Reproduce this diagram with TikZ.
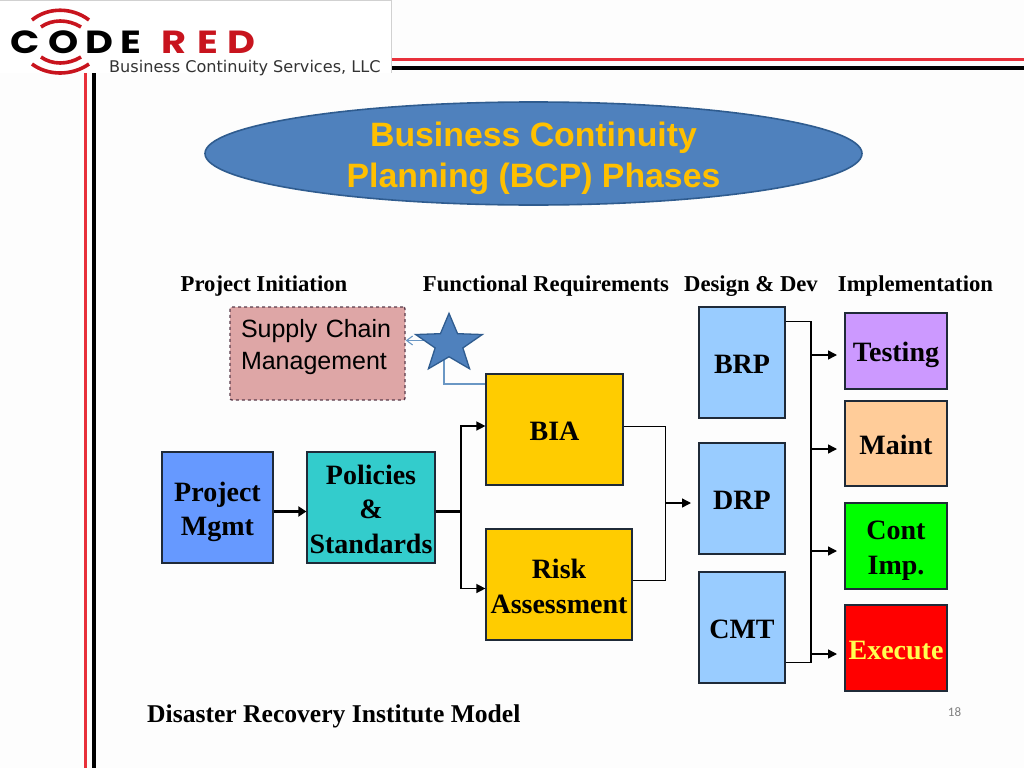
\documentclass[tikz,border=0pt]{standalone}
\usepackage{fontspec}
\setmainfont{Liberation Serif}
\newfontfamily\arialf{Liberation Sans}
\newfontfamily\logof{Poppins}
\newfontfamily\logosub{DejaVu Sans}
\newfontfamily\pagef{Carlito}
\usetikzlibrary{shapes.geometric,arrows.meta,calc}
\definecolor{pagebg}{HTML}{FDFDFD}
\definecolor{coderedc}{HTML}{C8141E}
\definecolor{barred}{HTML}{E8303A}
\definecolor{starblue}{HTML}{4F81BD}
\definecolor{starline}{HTML}{2F5C8F}
\definecolor{linkblue}{HTML}{6A97C4}
\definecolor{boxline}{HTML}{1F2A38}
\definecolor{titleyellow}{HTML}{FFC000}
\newcommand{\dnA}{\rule{0pt}{23pt}}
\newcommand{\dnB}{\rule{0pt}{28pt}}
\tikzset{
  x=1pt,y=-1pt,
  boxtext/.style={font=\bfseries\fontsize{28}{34.5}\selectfont,align=center,text=black},
  phasebox/.style={draw=boxline,line width=1.2pt,inner sep=0pt,boxtext},
  headlabel/.style={font=\bfseries\fontsize{22.7}{25}\selectfont,text=black,inner sep=0pt,text height=15pt,text depth=5pt},
  thin link/.style={draw=black,line width=1.4pt},
  thick link/.style={draw=black,line width=2.6pt},
  thin arrow/.style={thin link,-{Triangle[length=9pt,width=9pt]}},
  thick arrow/.style={thick link,-{Triangle[length=8pt,width=10pt]}},
  blue link/.style={draw=linkblue,line width=1.1pt},
  ring/.style={draw=coderedc,line width=3.6pt},
  logotext/.style={anchor=west,inner sep=0pt,xscale=1.2,transform shape,font=\logof\bfseries\fontsize{32}{32}\selectfont},
}
\begin{document}
\begin{tikzpicture}
\useasboundingbox (0,0) rectangle (1024,768);
\fill[pagebg] (0,0) rectangle (1024,768);

% frame lines
\draw[barred,line width=2.4pt] (392,59.5) -- (1024,59.5);
\draw[black,line width=3.6pt] (392,68) -- (1024,68);
\draw[barred,line width=2.4pt] (85.5,73) -- (85.5,768);
\draw[black,line width=3.6pt] (94,73) -- (94,768);

% logo panel
\fill[white] (0,0) rectangle (392,73);
\draw[black!18,line width=0.8pt] (0,0.5) -- (391.5,0.5) -- (391.5,73);
\draw[ring] (32,20) .. controls (48,7) and (72,7) .. (89,20);
\draw[ring] (41,27) .. controls (52,19) and (68,19) .. (81,27);
\draw[ring] (41,57) .. controls (52,65) and (68,65) .. (81,57);
\draw[ring] (32,64) .. controls (48,76) and (72,76) .. (89,64);
\node (code) [logotext] at (10,42) {C\hspace{7.3pt}O\hspace{6.2pt}D\hspace{5.7pt}E};
\node (red) [logotext,text=coderedc] at (161,42) {R\hspace{9pt}E\hspace{8pt}D};
\node (sub) [anchor=west,inner sep=0pt,text=black!80,font=\logosub\fontsize{16.1}{18}\selectfont] at (109,68) {Business Continuity Services, LLC};

% title ellipse
\node (title) [ellipse,draw=starline,line width=1.6pt,fill=starblue,minimum width=657pt,minimum height=103pt,inner sep=0pt] at (533.5,153.5) {};
\node (titletext) [inner sep=0pt,text=titleyellow,align=center,font=\arialf\bfseries\fontsize{33.8}{41}\selectfont] at (533.5,158) {Business Continuity\\Planning (BCP) Phases};

% headers
\node (h1) [headlabel] at (264,286) {Project Initiation};
\node (h2) [headlabel] at (546,286) {Functional Requirements};
\node (h3) [headlabel] at (751,286) {Design \& Dev};
\node (h4) [headlabel] at (915.5,286) {Implementation};

% boxes
\node (mgmt) [phasebox,fill={rgb,255:red,102;green,153;blue,255},minimum width=111pt,minimum height=111pt] at (217.5,507.5) {\dnB Project\\Mgmt};
\node (pol) [phasebox,fill={rgb,255:red,51;green,204;blue,204},minimum width=128pt,minimum height=111pt] at (371,507.5) {\dnA Policies\\\&\\Standards};
\node (bia) [phasebox,fill={rgb,255:red,255;green,204;blue,0},minimum width=137pt,minimum height=111pt] at (554.5,429.5) {\dnA BIA};
\node (risk) [phasebox,fill={rgb,255:red,255;green,204;blue,0},minimum width=146pt,minimum height=111pt] at (559,584.5) {\dnA Risk\\Assessment};
\node (brp) [phasebox,fill={rgb,255:red,153;green,204;blue,255},minimum width=86pt,minimum height=111pt] at (742,362.5) {\dnA BRP};
\node (drp) [phasebox,fill={rgb,255:red,153;green,204;blue,255},minimum width=86pt,minimum height=111pt] at (742,498.5) {\dnA DRP};
\node (cmt) [phasebox,fill={rgb,255:red,153;green,204;blue,255},minimum width=86pt,minimum height=111pt] at (742,627.5) {\dnA CMT};
\node (test) [phasebox,fill={rgb,255:red,204;green,153;blue,255},minimum width=102pt,minimum height=76pt] at (896,351) {\dnB Testing};
\node (maint) [phasebox,fill={rgb,255:red,255;green,204;blue,153},minimum width=102pt,minimum height=85pt] at (896,443.5) {\dnA Maint};
\node (cont) [phasebox,fill={rgb,255:red,0;green,255;blue,0},minimum width=102pt,minimum height=86pt] at (896,546) {\dnB Cont\\Imp.};
\node (exec) [phasebox,fill={rgb,255:red,255;green,0;blue,0},minimum width=102pt,minimum height=86pt,text={rgb,255:red,255;green,255;blue,80}] at (896,648) {\dnA Execute};

% supply chain box
\node (supply) [draw={rgb,255:red,90;green,60;blue,75},dashed,line width=1.4pt,rounded corners=2pt,fill={rgb,255:red,222;green,166;blue,166},
  minimum width=175pt,minimum height=93pt,inner xsep=11pt,inner ysep=0pt,text width=153pt,align=left,
  font=\arialf\fontsize{25}{32}\selectfont] at (317.5,353.5) {Supply Chain\\Management\\[-14pt]\mbox{}};

% star links
\coordinate (starlinkA) at (448,340.5);
\coordinate (starlinkB) at (444,350);
\coordinate (starlinkC) at (444,384);
\draw[blue link,-{Straight Barb[length=6pt,width=9pt]}] (starlinkA) -- (supply.east |- starlinkA);
\draw[blue link] (starlinkB) -- (starlinkC) -- (bia.west |- starlinkC);
\node (star) [star,star points=5,star point ratio=2.4,draw=starline,line width=1.3pt,fill=starblue,minimum size=70pt,inner sep=0pt,yscale=0.875,transform shape] at (449,344) {};

% connectors left side
\coordinate (midrow) at (0,511.5);
\coordinate (fork) at (461,511.5);
\coordinate (biaport) at (0,426);
\coordinate (riskport) at (0,588.5);
\draw[thick arrow] (mgmt.east |- midrow) -- (pol.west |- midrow);
\draw[thick link] (pol.east |- midrow) -- (fork);
\draw[thin arrow] (fork) -- (fork |- biaport) -- (bia.west |- biaport);
\draw[thin arrow] (fork) -- (fork |- riskport) -- (risk.west |- riskport);

% BIA + Risk to DRP
\coordinate (merge) at (665.5,503);
\coordinate (drpin) at (691,503);
\coordinate (biaout) at (0,426.5);
\coordinate (riskout) at (0,580.5);
\draw[thin link] (bia.east |- biaout) -- (merge |- biaout) -- (merge |- riskout) -- (risk.east |- riskout);
\draw[thin arrow] (merge) -- (drpin);

% Design to Implementation
\coordinate (bus) at (811,321.5);
\coordinate (busend) at (811,662.5);
\draw[thin link] (brp.east |- bus) -- (bus) -- (busend) -- (cmt.east |- busend);
\coordinate (stop) at (837,0);
\coordinate (r1) at (0,355);
\coordinate (r2) at (0,449);
\coordinate (r3) at (0,551);
\coordinate (r4) at (0,654);
\draw[thin arrow] (bus |- r1) -- (stop |- r1);
\draw[thin arrow] (bus |- r2) -- (stop |- r2);
\draw[thin arrow] (bus |- r3) -- (stop |- r3);
\draw[thin arrow] (bus |- r4) -- (stop |- r4);

% footer
\node (model) [anchor=west,inner sep=0pt,text=black,font=\bfseries\fontsize{25.6}{30}\selectfont] at (147,716) {Disaster Recovery Institute Model};
\node (page) [inner sep=0pt,text=black!50,font=\pagef\fontsize{13}{15}\selectfont] at (954.5,712) {18};
\end{tikzpicture}
\end{document}
